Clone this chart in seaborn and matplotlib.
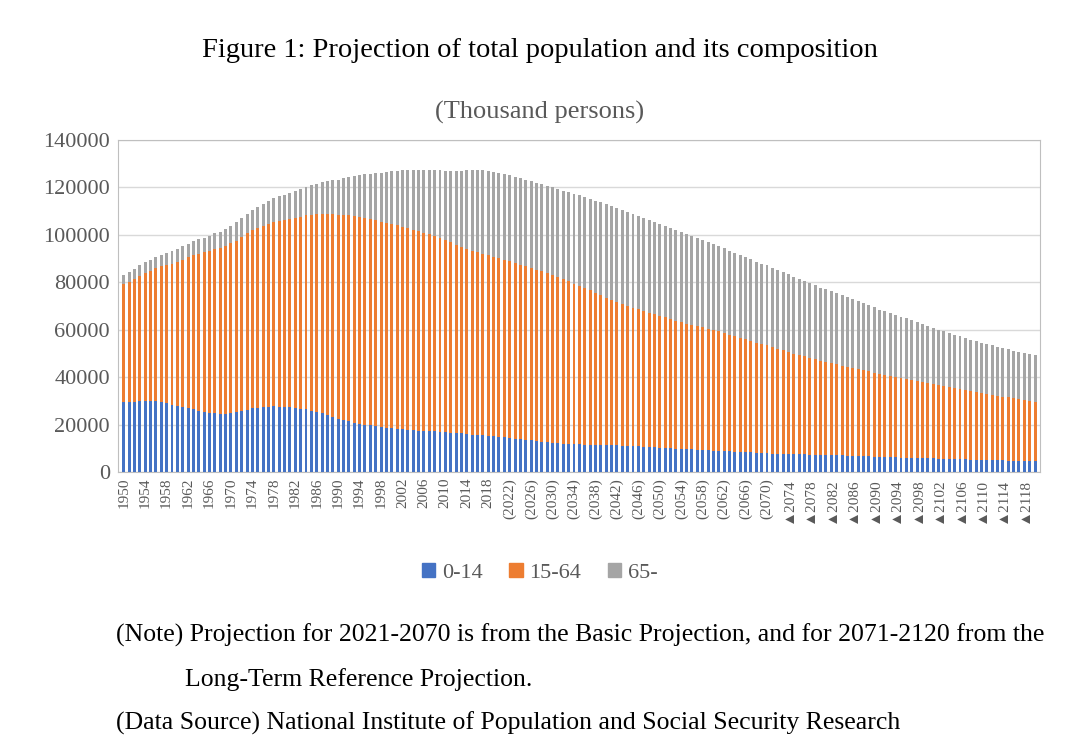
import matplotlib
matplotlib.use("Agg")
import matplotlib.pyplot as plt
import seaborn as sns
import numpy as np
import pandas as pd
from matplotlib.patches import Patch

years = list(range(1950, 2121))
age_0_14 = [29.4,29.6,29.7,29.9,30.0, 30.1,30.0,29.6,29.0,28.5, 28.1,27.6,27.0,26.5,25.8,
 25.2,24.9,24.8,24.6,24.7, 24.8,25.2,25.8,26.4,26.9, 27.2,27.4,27.6,27.7,27.6,
 27.5,27.3,27.0,26.8,26.5, 26.0,25.4,24.8,24.0,23.2, 22.5,21.9,21.4,20.8,20.4,
 20.0,19.7,19.4,19.0,18.7, 18.5,18.3,18.1,17.9,17.7, 17.5,17.4,17.3,17.2,17.0,
 16.8,16.7,16.5,16.4,16.2, 15.9,15.8,15.6,15.4,15.2, 15.0,14.8,14.5,14.2,13.9,
 13.6,13.4,13.1,12.9,12.6, 12.4,12.2,12.0,11.9,11.8, 11.7,11.6,11.6,11.5,11.5,
 11.4,11.4,11.3,11.2,11.1, 11.0,10.9,10.8,10.7,10.5, 10.4,10.3,10.1,10.0,9.9,
 9.7,9.6,9.5,9.4,9.3, 9.1,9.0,8.9,8.8,8.7, 8.6,8.5,8.4,8.2,8.1,
 8.0,7.9,7.8,7.8,7.7, 7.6,7.6,7.5,7.4,7.4, 7.3,7.2,7.2,7.1,7.1,
 7.0,6.9,6.8,6.8,6.7, 6.6,6.5,6.5,6.4,6.3, 6.2,6.2,6.1,6.0,6.0,
 5.9,5.8,5.7,5.7,5.6, 5.5,5.5,5.4,5.3,5.3, 5.2,5.1,5.1,5.0,5.0,
 4.9,4.8,4.8,4.7,4.7, 4.6]
age_15_64 = [49.7,50.7,51.8,52.8,53.8, 54.7,55.9,57.1,58.3,59.4, 60.5,62.0,63.5,65.0,66.3,
 67.4,68.3,69.2,70.0,70.8, 71.6,72.4,73.3,74.2,75.1, 75.8,76.4,77.1,77.7,78.3,
 78.8,79.5,80.2,80.9,81.7, 82.5,83.3,84.1,84.9,85.5, 85.9,86.4,86.8,87.0,87.1,
 87.2,87.0,86.8,86.6,86.4, 86.2,85.8,85.4,84.9,84.5, 84.1,83.5,82.9,82.3,81.6,
 81.0,80.2,79.4,78.6,77.9, 77.3,76.8,76.3,75.9,75.4, 75.1,74.7,74.3,73.9,73.5,
 73.1,72.7,72.2,71.7,71.2, 70.8,70.0,69.2,68.5,67.7, 66.9,66.0,65.0,64.0,63.1,
 62.1,61.3,60.5,59.8,59.0, 58.3,57.7,57.1,56.5,56.0, 55.4,54.9,54.3,53.8,53.3,
 52.8,52.4,52.0,51.6,51.2, 50.8,50.3,49.7,49.2,48.6, 48.1,47.5,47.0,46.4,45.9,
 45.4,44.8,44.2,43.6,43.0, 42.4,41.8,41.3,40.7,40.2, 39.6,39.2,38.7,38.3,37.8,
 37.4,37.0,36.6,36.2,35.8, 35.4,35.0,34.6,34.3,33.9, 33.5,33.1,32.7,32.4,32.0,
 31.6,31.3,30.9,30.6,30.2, 29.9,29.5,29.2,28.9,28.5, 28.2,27.9,27.5,27.2,26.9,
 26.6,26.3,26.0,25.7,25.4, 25.1]
age_65 = [4.1,4.2,4.3,4.5,4.6, 4.8,4.9,5.0,5.2,5.3, 5.4,5.6,5.7,5.9,6.0,
 6.2,6.4,6.6,6.8,7.1, 7.3,7.6,7.9,8.3,8.6, 8.9,9.2,9.6,10.0,10.3,
 10.6,11.0,11.3,11.7,12.1, 12.5,12.9,13.3,13.8,14.3, 14.9,15.6,16.2,16.9,17.6,
 18.3,19.0,19.8,20.5,21.2, 22.0,22.8,23.6,24.3,25.0, 25.7,26.4,27.2,28.0,28.7,
 29.2,29.8,30.8,31.9,33.0, 33.9,34.6,35.2,35.6,35.9, 36.0,36.2,36.3,36.3,36.4,
 36.5,36.6,36.7,36.8,36.9, 37.0,37.2,37.4,37.6,37.8, 38.0,38.3,38.6,38.9,39.1,
 39.3,39.4,39.5,39.5,39.5, 39.5,39.4,39.3,39.2,39.0, 38.9,38.7,38.6,38.4,38.2,
 38.0,37.6,37.3,36.9,36.6, 36.2,35.9,35.7,35.4,35.2, 34.9,34.6,34.4,34.1,33.9,
 33.7,33.4,33.2,32.9,32.7, 32.4,32.1,31.8,31.5,31.2, 30.9,30.6,30.3,30.0,29.6,
 29.3,29.0,28.6,28.2,27.8, 27.4,27.0,26.7,26.4,26.1, 25.8,25.5,25.2,24.8,24.5,
 24.2,23.8,23.5,23.2,22.9, 22.6,22.3,22.0,21.7,21.4, 21.2,21.0,20.8,20.6,20.4,
 20.3,20.1,20.0,19.9,19.8, 19.8]

labels = []
for y in years:
    if y <= 2020:
        labels.append(str(y))
    elif y <= 2070:
        labels.append(f"({y})")
    else:
        labels.append(f"▲{y}")

df = pd.DataFrame({"year": labels,
                   "y": np.array(age_0_14) * 1000,
                   "w": np.array(age_15_64) * 1000,
                   "o": np.array(age_65) * 1000})
df["yw"] = df["y"] + df["w"]
df["tot"] = df["yw"] + df["o"]

plt.rcParams["font.family"] = ["Liberation Serif", "DejaVu Sans"]
fig = plt.figure(figsize=(10.86, 7.52), dpi=100)
ax = fig.add_axes([0.109, 0.372, 0.849, 0.442])
c_b, c_o, c_g = "#4472C4", "#ED7D31", "#A5A5A5"
sns.barplot(data=df, x="year", y="tot", color=c_g, width=0.55, ax=ax, saturation=1, zorder=2)
sns.barplot(data=df, x="year", y="yw", color=c_o, width=0.55, ax=ax, saturation=1, zorder=3)
sns.barplot(data=df, x="year", y="y", color=c_b, width=0.55, ax=ax, saturation=1, zorder=4)

ax.set_ylim(0, 140000)
ax.set_yticks(range(0, 140001, 20000))
ax.tick_params(axis="y", labelsize=16, length=0, colors="#595959", pad=6)
ax.set_xlim(-1, len(years))
ax.set_xticks(range(0, len(years), 4))
ax.set_xticklabels([labels[i] for i in range(0, len(years), 4)], rotation=90, fontsize=11, color="#595959")
ax.tick_params(axis="x", length=0, pad=4)
ax.grid(axis="y", color="#D9D9D9", lw=1, zorder=0)
ax.set_axisbelow(True)
ax.set_xlabel(""); ax.set_ylabel("")
for s in ax.spines.values():
    s.set_color("#BFBFBF")

fig.text(0.497, 0.933, "Figure 1: Projection of total population and its composition", ha="center", va="center", fontsize=20.5)
fig.text(0.497, 0.851, "(Thousand persons)", ha="center", va="center", fontsize=19, color="#595959")

handles = [Patch(color=c_b, label="0-14"), Patch(color=c_o, label="15-64"), Patch(color=c_g, label="65-")]
fig.legend(handles=handles, loc="center", bbox_to_anchor=(0.497, 0.238), ncol=3, frameon=False,
           fontsize=16, handlelength=0.6, handleheight=0.6, handletextpad=0.3, columnspacing=1.2,
           labelcolor="#595959")

fs = 18.5
fig.text(0.107, 0.155, "(Note) Projection for 2021-2070 is from the Basic Projection, and for 2071-2120 from the", fontsize=fs, va="center")
fig.text(0.170, 0.097, "Long-Term Reference Projection.", fontsize=fs, va="center")
fig.text(0.107, 0.038, "(Data Source) National Institute of Population and Social Security Research", fontsize=fs, va="center")

fig.savefig("out.png", dpi=100)
